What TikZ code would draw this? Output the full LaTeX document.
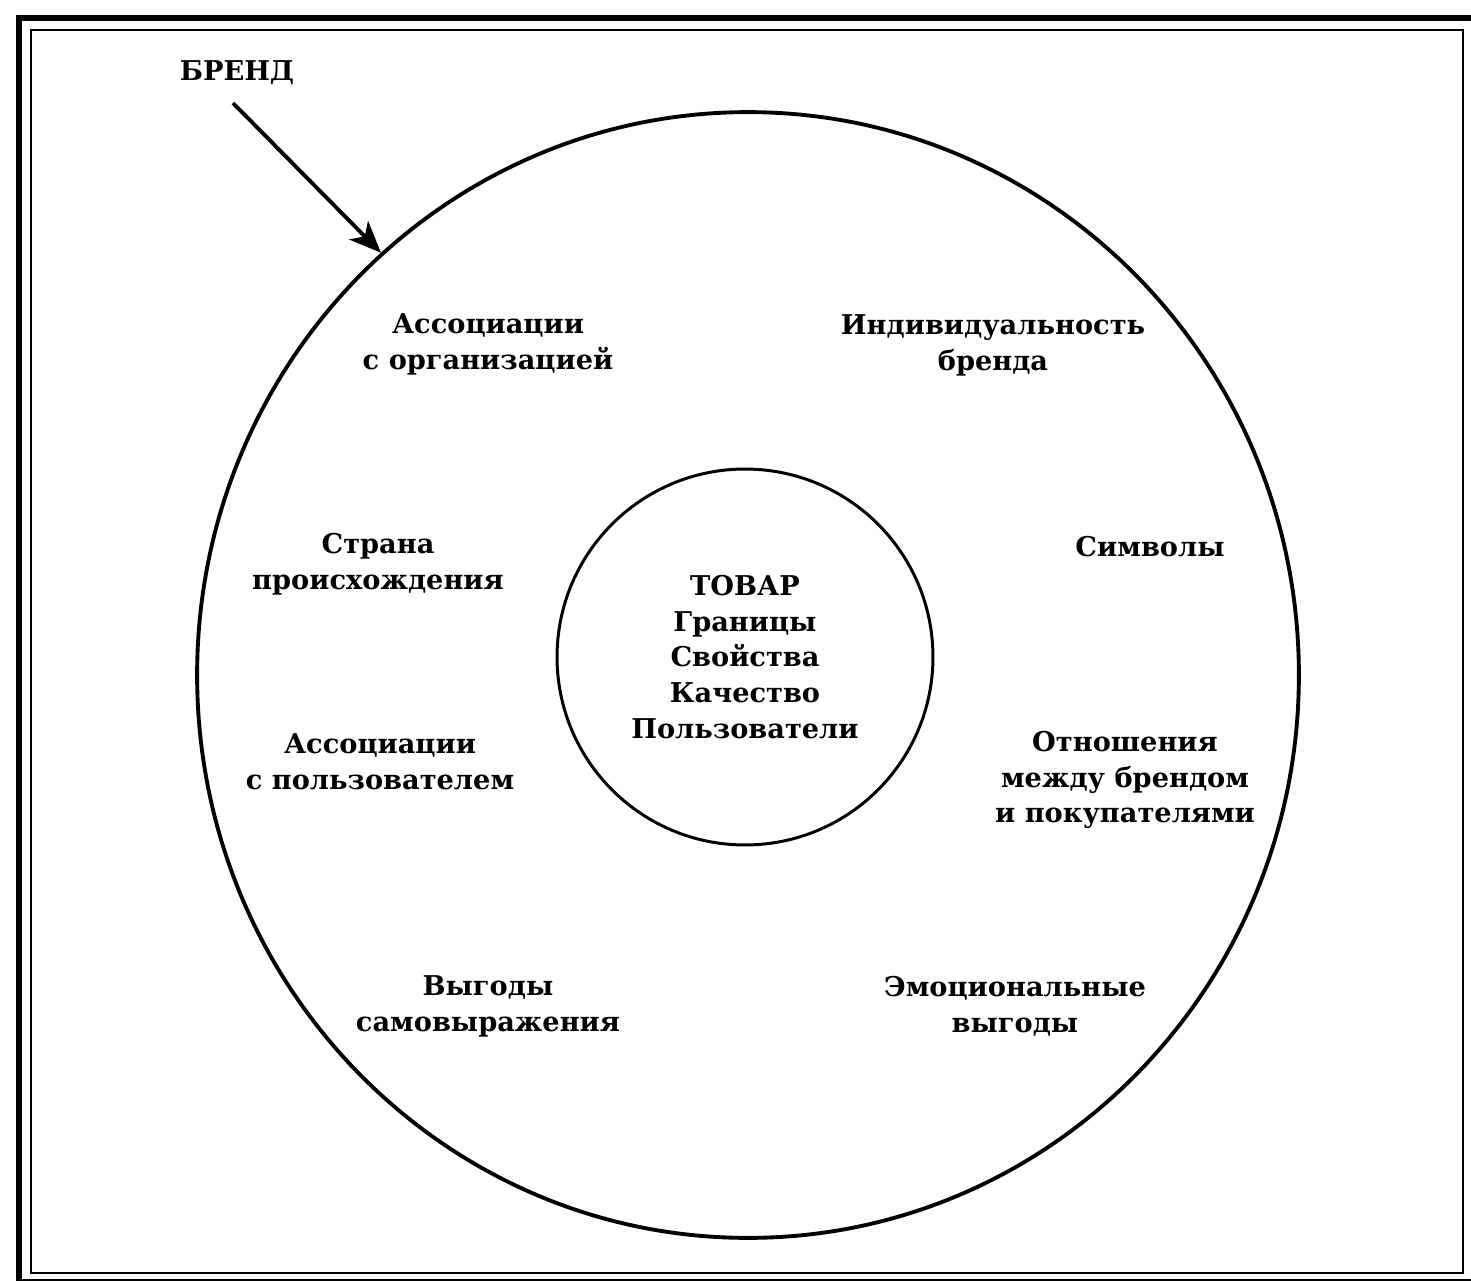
\documentclass[tikz,border=0pt]{standalone}
\usepackage{fontspec}
\setmainfont{DejaVu Serif}
\usetikzlibrary{shapes.geometric, arrows.meta}

\tikzset{
    lbl/.style={align=center, font=\bfseries\fontsize{15.5}{20.4}\selectfont, inner sep=0pt},
}

\begin{document}
\begin{tikzpicture}[x=0.02cm, y=-0.02cm]
            \useasboundingbox (0, 0) rectangle (1471, 1281);
            \fill[white] (0, 0) rectangle (1471, 1281);

            % double frame
            \draw[black, line width=3.4pt] (19, 18) rectangle (1480, 1282);
            \draw[black, line width=1.2pt] (31, 30) rectangle (1463, 1273);

            % outer and inner circles
            \node[ellipse, draw, line width=2.2pt, minimum width=22.04cm, minimum height=22.52cm, inner sep=0pt] (brand) at (748, 675) {};
            \node[circle, draw, line width=1.7pt, minimum size=7.52cm, lbl] (product) at (745, 657) {ТОВАР\\Границы\\Свойства\\Качество\\Пользователи};

            \node[lbl] (brandname) at (237, 73) {БРЕНД};
            \coordinate (tail) at (233, 103);
            \draw[black, line width=2.2pt, -{Stealth[length=18pt, width=15pt, inset=5pt]}] (tail) -- (brand.131);

            \node[lbl] (orgassoc) at (488, 344) {Ассоциации\\с организацией};
            \node[lbl] (personality) at (993, 345) {Индивидуальность\\бренда};
            \node[lbl] (country) at (378, 564) {Страна\\происхождения};
            \node[lbl] (symbols) at (1150, 547) {Символы};
            \node[lbl] (userassoc) at (380, 762) {Ассоциации\\с пользователем};
            \node[lbl] (relations) at (1125, 780) {Отношения\\между брендом\\и покупателями};
            \node[lbl] (selfexpr) at (488, 1006) {Выгоды\\самовыражения};
            \node[lbl] (emotional) at (1015, 1006) {Эмоциональные\\выгоды};

        \end{tikzpicture}
\end{document}
